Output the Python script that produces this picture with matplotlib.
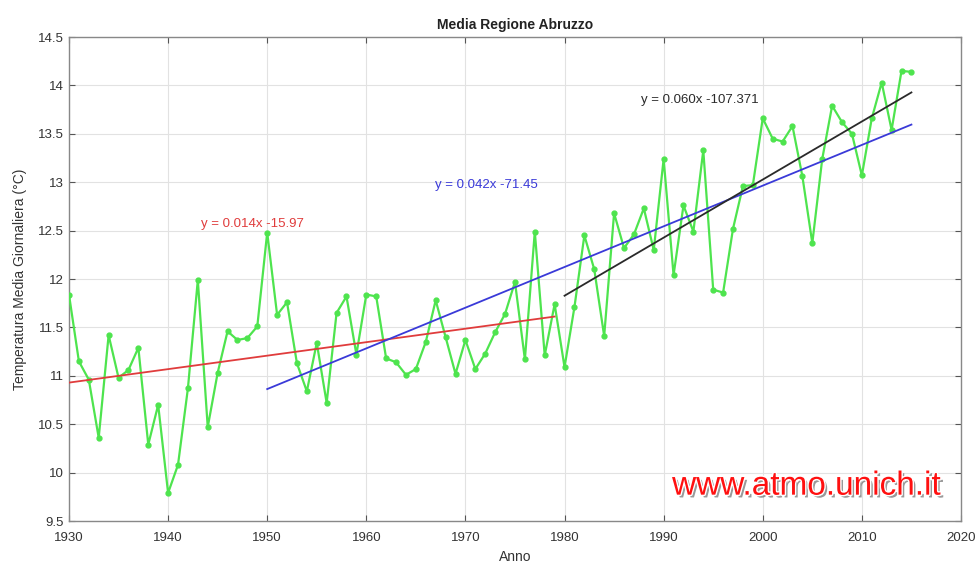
#!/usr/bin/env python3

import numpy as np
import matplotlib
matplotlib.use("Agg")
import matplotlib.pyplot as plt
import matplotlib.patheffects as pe

plt.rcParams['font.family'] = ['Liberation Sans', 'DejaVu Sans']

# annual mean temperature, 1930-2015
anni = np.arange(1930, 2016)
temperatura = [
    11.84, 11.15, 10.96, 10.36, 11.42, 10.98, 11.06, 11.29, 10.29, 10.70,  # 1930s
    9.79, 10.08, 10.87, 11.99, 10.47, 11.03, 11.46, 11.37, 11.39, 11.51,   # 1940s
    12.48, 11.63, 11.76, 11.13, 10.84, 11.34, 10.72, 11.65, 11.82, 11.22,  # 1950s
    11.84, 11.82, 11.18, 11.14, 11.01, 11.07, 11.35, 11.78, 11.40, 11.02,  # 1960s
    11.37, 11.07, 11.23, 11.45, 11.64, 11.97, 11.17, 12.49, 11.21, 11.74,  # 1970s
    11.09, 11.71, 12.45, 12.10, 11.41, 12.68, 12.32, 12.46, 12.73, 12.30,  # 1980s
    13.24, 12.04, 12.76, 12.49, 13.33, 11.89, 11.86, 12.52, 12.96, 12.97,  # 1990s
    13.66, 13.45, 13.42, 13.58, 13.06, 12.37, 13.24, 13.79, 13.62, 13.50,  # 2000s
    13.07, 13.66, 14.03, 13.54, 14.15, 14.14,                              # 2010s
]
temperatura = np.array(temperatura)

# periods for the linear trends and their labels
periodi = [(1930, 1979), (1950, 2015), (1980, 2015)]
colori_trend = ['#e03c3c', '#3a3ad8', '#2a2a2a']
etichette = ['y = 0.014x -15.97', 'y = 0.042x -71.45', 'y = 0.060x -107.371']
pos_etichette = [(1943.3, 12.57), (1966.9, 12.97), (1987.7, 13.85)]

fig = plt.figure(figsize=(9.77, 5.67), dpi=100)
ax = fig.add_axes([0.0706, 0.0811, 0.9130, 0.8536])

ax.plot(anni, temperatura, color='#4ee44e', lw=1.6, marker='o', ms=3.5,
        zorder=3)

for (a0, a1), c in zip(periodi, colori_trend):
    sel = (anni >= a0) & (anni <= a1)
    coef = np.polyfit(anni[sel], temperatura[sel], 1)
    xs = np.array([a0, a1])
    ax.plot(xs, np.polyval(coef, xs), color=c, lw=1.3, zorder=4)

for txt, (x, y), c in zip(etichette, pos_etichette, colori_trend):
    ax.text(x, y, txt, color=c, fontsize=9.5, va='center', ha='left')

ax.set_xlim(1930, 2020)
ax.set_ylim(9.5, 14.5)
ax.set_xticks(np.arange(1930, 2021, 10))
ax.set_yticks(np.arange(9.5, 14.51, 0.5))
ax.set_yticklabels(['9.5', '10', '10.5', '11', '11.5', '12', '12.5', '13',
                    '13.5', '14', '14.5'])
ax.grid(True, color='#e2e2e2', lw=0.8)
ax.set_axisbelow(True)
ax.tick_params(direction='in', length=4, top=True, right=True,
               labelsize=9.5, colors='#555555', labelcolor='#333333')
ax.tick_params(axis='x', pad=8)
for s in ax.spines.values():
    s.set_color('#888888')
    s.set_linewidth(1.0)

ax.set_title('Media Regione Abruzzo', fontsize=10, fontweight='bold',
             color='#222222', pad=6)
ax.set_xlabel('Anno', fontsize=10, color='#333333', labelpad=4)
ax.set_ylabel('Temperatura Media Giornaliera (°C)', fontsize=10,
              color='#333333', labelpad=8)

ax.text(0.977, 0.072, 'www.atmo.unich.it', transform=ax.transAxes,
        ha='right', va='center', fontsize=24, color='#ff1010',
        path_effects=[pe.withSimplePatchShadow(offset=(2, -2),
                                               shadow_rgbFace='#555555',
                                               alpha=0.6),
                      pe.withStroke(linewidth=2, foreground='white')],
        zorder=6)

fig.savefig('out.png', dpi=100)
